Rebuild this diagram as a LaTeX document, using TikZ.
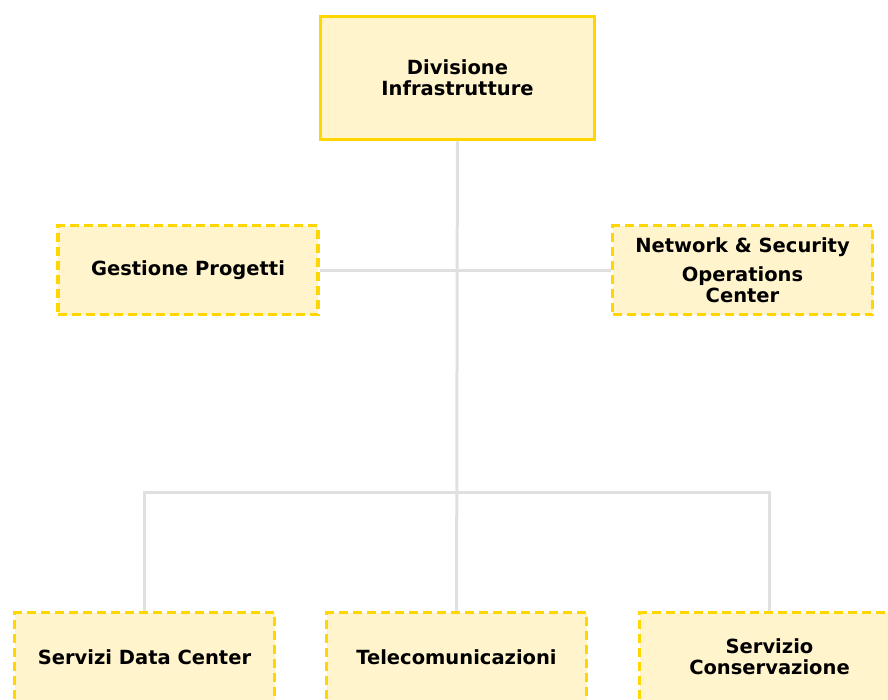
\documentclass[tikz,border=0pt]{standalone}
\usepackage{fontspec}
\setmainfont{DejaVu Sans}
\usetikzlibrary{positioning}

\definecolor{boxgold}{RGB}{255,214,0}
\definecolor{boxcream}{RGB}{255,244,204}
\definecolor{linkgray}{RGB}{224,224,224}

\begin{document}
\begin{tikzpicture}[x=1pt, y=-1pt, line width=3.5pt,
    headbox/.style={draw=boxgold, fill=boxcream, align=center,
        minimum width=274pt, minimum height=123pt, inner sep=0pt,
        font=\bfseries\fontsize{19.5}{21}\selectfont},
    unitbox/.style={headbox, dash pattern=on 9pt off 5pt,
        minimum width=260pt, minimum height=89pt},
    link/.style={draw=linkgray, line width=3pt}]

    \useasboundingbox (0, 0) rectangle (888, 699);
    \clip (0, 0) rectangle (888, 699);

    % head
    \node [headbox] (div) at (457.5, 78) {Divisione\\Infrastrutture};

    % staff
    \node [unitbox] (gp) at (188, 270) {Gestione Progetti};
    \node [unitbox] (nsoc) at (742.5, 270) {Network \& Security\\[8pt]Operations\\Center};

    % services
    \node [unitbox] (sdc) at (144.5, 657) {Servizi Data Center};
    \node [unitbox] (tlc) at (456.5, 657) {Telecomunicazioni};
    \node [unitbox] (sc) at (769.5, 657) {Servizio\\Conservazione};

    % links
    \coordinate (bus) at (457, 492);
    \draw [link] (div) -- (tlc);
    \draw [link] (gp) -- (nsoc);
    \draw [link] (sdc) |- (bus) -| (sc);
\end{tikzpicture}
\end{document}
